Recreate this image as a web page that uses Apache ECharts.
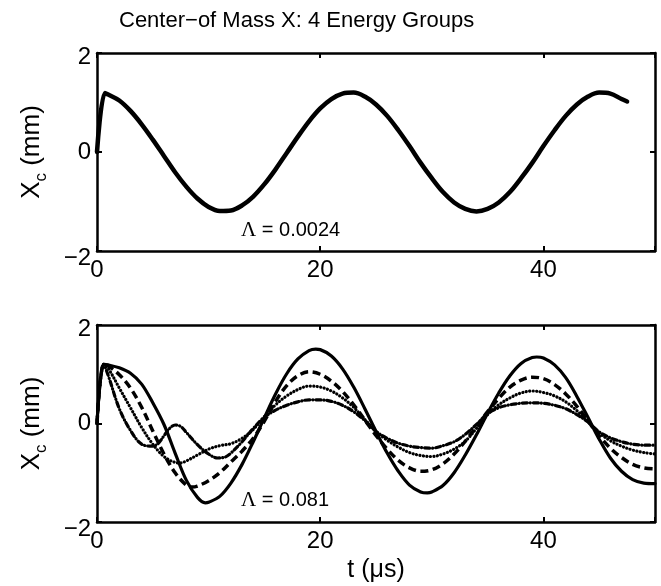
<!DOCTYPE html>
<html><head><meta charset="utf-8">
<script src="https://cdn.jsdelivr.net/npm/echarts@6/dist/echarts.min.js"></script>
<style>html,body{margin:0;padding:0;background:#fff}#c{width:661px;height:586px}</style>
</head><body><div id="c"></div>
<script>
const titleText = 'Center\u2212of Mass X: 4 Energy Groups';
const xTickStep = 20;
const yTickStep = 2;
const xRange = [0, 50];
const yRange = [-2, 2];
const topLambda = '0.0024';
const bottomLambda = '0.081';

// top panel: single curve (t in µs, Xc in mm)
const topCurve = [[0,0],[0.7,1.19],[1,1.16],[2,1.04],[3,0.83],[4,0.56],[5,0.25],[6,-0.08],[7,-0.41],[8,-0.70],[9,-0.94],[10,-1.11],[11,-1.19],[12,-1.18],[13,-1.08],[14,-0.90],[15,-0.65],[16,-0.35],[17,-0.02],[18,0.31],[19,0.62],[20,0.88],[21,1.07],[22,1.18],[23,1.20],[24,1.12],[25,0.96],[26,0.73],[27,0.44],[28,0.12],[29,-0.22],[30,-0.53],[31,-0.81],[32,-1.02],[33,-1.15],[34,-1.20],[35,-1.15],[36,-1.02],[37,-0.81],[38,-0.53],[39,-0.22],[40,0.12],[41,0.44],[42,0.73],[43,0.96],[44,1.12],[45,1.20],[46,1.18],[47,1.07],[47.5,1.02]];

// bottom panel: four curves
const solidCurve = [[0,0],[0.6,1.2],[1,1.19],[2,1.13],[3,1.02],[4,0.80],[5,0.42],[6,-0.02],[7,-0.60],[8,-1.15],[9,-1.50],[9.7,-1.61],[10,-1.60],[11,-1.48],[12,-1.21],[13,-0.83],[14,-0.37],[15,0.12],[16,0.60],[17,1.01],[18,1.31],[19,1.48],[19.6,1.51],[20,1.50],[21,1.37],[22,1.11],[23,0.74],[24,0.30],[25,-0.16],[26,-0.60],[27,-0.97],[28,-1.25],[29,-1.39],[29.6,-1.41],[30,-1.39],[31,-1.26],[32,-1.00],[33,-0.64],[34,-0.23],[35,0.21],[36,0.62],[37,0.97],[38,1.22],[39,1.34],[39.4,1.35],[40,1.33],[41,1.19],[42,0.93],[43,0.55],[44,0.12],[45,-0.32],[46,-0.70],[47,-0.97],[48,-1.14],[49,-1.21],[50,-1.22]];
const dashedCurve = [[0,0],[0.6,1.2],[1,1.17],[2,0.99],[3,0.72],[4,0.33],[5,-0.15],[6,-0.62],[7,-1.00],[8,-1.25],[8.5,-1.29],[9,-1.27],[10,-1.16],[11,-1.00],[12,-0.78],[13,-0.56],[14,-0.30],[15,0.05],[16,0.45],[17,0.77],[18,0.97],[19,1.05],[20,1.00],[21,0.86],[22,0.65],[23,0.38],[24,0.07],[25,-0.24],[26,-0.52],[27,-0.75],[28,-0.90],[29,-0.97],[30,-0.94],[31,-0.82],[32,-0.62],[33,-0.36],[34,-0.06],[35,0.24],[36,0.51],[37,0.74],[38,0.88],[39,0.94],[40,0.91],[41,0.79],[42,0.60],[43,0.35],[44,0.05],[45,-0.25],[46,-0.50],[47,-0.69],[48,-0.83],[49,-0.90],[50,-0.92]];
const dottedCurve = [[0,0],[0.6,1.2],[1,1.12],[2,0.72],[3,0.32],[4,-0.08],[5,-0.42],[6,-0.67],[7,-0.79],[7.5,-0.80],[8,-0.76],[9,-0.64],[10,-0.52],[11,-0.45],[12,-0.41],[13,-0.30],[14,-0.12],[15,0.14],[16,0.38],[17,0.56],[18,0.69],[19,0.76],[20,0.74],[21,0.66],[22,0.52],[23,0.33],[24,0.08],[25,-0.16],[26,-0.34],[27,-0.48],[28,-0.59],[29,-0.65],[30,-0.67],[31,-0.62],[32,-0.52],[33,-0.36],[34,-0.10],[35,0.18],[36,0.38],[37,0.52],[38,0.62],[39,0.66],[40,0.63],[41,0.56],[42,0.44],[43,0.26],[44,0.04],[45,-0.19],[46,-0.35],[47,-0.46],[48,-0.54],[49,-0.59],[50,-0.62]];
const dashDotCurve = [[0,0],[0.6,1.2],[1,0.98],[2,0.30],[3,-0.14],[4,-0.42],[5,-0.46],[5.5,-0.40],[6,-0.25],[6.5,-0.10],[7,-0.03],[7.5,-0.06],[8,-0.18],[9,-0.43],[10,-0.62],[10.8,-0.70],[11.5,-0.68],[12,-0.60],[13,-0.37],[14,-0.10],[15,0.13],[16,0.27],[17,0.37],[18,0.44],[19,0.48],[20,0.48],[21,0.45],[22,0.37],[23,0.24],[24,0.06],[25,-0.16],[26,-0.30],[27,-0.40],[28,-0.46],[29,-0.49],[30,-0.50],[31,-0.45],[32,-0.37],[33,-0.22],[34,-0.02],[35,0.20],[36,0.32],[37,0.38],[38,0.41],[39,0.42],[40,0.41],[41,0.37],[42,0.30],[43,0.18],[44,0.03],[45,-0.17],[46,-0.29],[47,-0.37],[48,-0.42],[49,-0.44],[50,-0.44]];

const FONT = 'Liberation Sans, Arial, Helvetica, sans-serif';
const SERIF = 'Liberation Serif, Times New Roman, serif';
const BLACK = '#000';

function xLabel(v){ return (v === xRange[1]) ? '' : String(v); }
function yLabel(v){
  if (v < 0) return '{lo|\u2212' + Math.abs(v) + '}';
  if (v === yRange[1]) return '{hi|' + v + '}';
  return String(v);
}
const labelRich = {
  lo: {fontSize: 24, fontFamily: FONT, color: BLACK, padding: [14,0,0,0]},
  hi: {fontSize: 24, fontFamily: FONT, color: BLACK, padding: [8,0,0,0]}
};

function xAx(grid, pos, labels, name){
  return {
    type: 'value', gridIndex: grid, position: pos, min: xRange[0], max: xRange[1], interval: xTickStep,
    axisLine: {show: true, onZero: false, lineStyle: {color: BLACK, width: 2.5}},
    axisTick: {show: true, inside: true, length: 5, lineStyle: {color: BLACK, width: 2}},
    axisLabel: {show: labels, formatter: xLabel, fontSize: 24, fontFamily: FONT, color: BLACK, margin: 7},
    splitLine: {show: false},
    name: name || '', nameLocation: 'middle', nameGap: 36,
    nameTextStyle: {fontSize: 25, fontFamily: FONT, color: BLACK}
  };
}
function yAx(grid, pos, labels, withName){
  return {
    type: 'value', gridIndex: grid, position: pos, min: yRange[0], max: yRange[1], interval: yTickStep,
    axisLine: {show: true, onZero: false, lineStyle: {color: BLACK, width: 2.5}},
    axisTick: {show: true, inside: true, length: 5, lineStyle: {color: BLACK, width: 2}},
    axisLabel: {show: labels, formatter: yLabel, fontSize: 24, fontFamily: FONT, color: BLACK, margin: 6, rich: labelRich},
    splitLine: {show: false},
    name: withName ? '{x|X}{c|c}{x| (mm)}' : '', nameLocation: 'middle', nameGap: 47, nameRotate: 90,
    nameTextStyle: {
      fontSize: 26, fontFamily: FONT, color: BLACK,
      rich: {
        x: {fontSize: 26, fontFamily: FONT, color: BLACK, lineHeight: 36, verticalAlign: 'middle'},
        c: {fontSize: 17, fontFamily: FONT, color: BLACK, lineHeight: 17, verticalAlign: 'bottom'}
      }
    }
  };
}

function lineSeries(data, xi, yi, width, dash, cap){
  return {
    type: 'line', data: data, xAxisIndex: xi, yAxisIndex: yi,
    showSymbol: false, symbol: 'none', smooth: 0.35, silent: true, animation: false,
    lineStyle: {color: BLACK, width: width, type: dash, cap: cap || 'butt', join: 'round'}
  };
}

const chart = echarts.init(document.getElementById('c'), null, {renderer: 'canvas'});
chart.setOption({
  backgroundColor: '#fff',
  animation: false,
  grid: [
    {left: 97, top: 53, right: 6, height: 198},
    {left: 97, top: 325, right: 6, height: 197}
  ],
  xAxis: [xAx(0,'bottom',true), xAx(0,'top',false), xAx(1,'bottom',true,'t (\u03bcs)'), xAx(1,'top',false)],
  yAxis: [yAx(0,'left',true,true), yAx(0,'right',false,false), yAx(1,'left',true,true), yAx(1,'right',false,false)],
  series: [
    lineSeries(topCurve, 0, 0, 4.5, 'solid', 'round'),
    lineSeries(solidCurve, 2, 2, 3.2, 'solid', 'round'),
    lineSeries(dashedCurve, 2, 2, 3.5, [8, 4.5]),
    lineSeries(dottedCurve, 2, 2, 3.2, [0.1, 3.4], 'round'),
    lineSeries(dashDotCurve, 2, 2, 3.2, [5, 3, 0.1, 3], 'round')
  ],
  graphic: [
    {type: 'text', left: 119, top: 10, style: {text: titleText, fontSize: 22, fontFamily: FONT, fill: BLACK}},
    {type: 'text', x: 241, y: 230, style: {text: '{g|\u039b} = ' + topLambda, fontSize: 20, fontFamily: FONT, fill: BLACK, verticalAlign: 'middle',
      rich: {g: {fontSize: 21, fontFamily: SERIF, fill: BLACK}}}},
    {type: 'text', x: 241, y: 500, style: {text: '{g|\u039b} = ' + bottomLambda, fontSize: 20, fontFamily: FONT, fill: BLACK, verticalAlign: 'middle',
      rich: {g: {fontSize: 21, fontFamily: SERIF, fill: BLACK}}}}
  ]
});
</script></body></html>
